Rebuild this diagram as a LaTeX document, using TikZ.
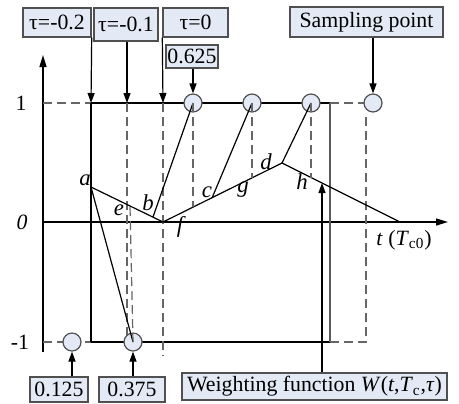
\documentclass[tikz,border=0pt]{standalone}
\usepackage{fontspec}
\setmainfont{Liberation Serif}
\usetikzlibrary{arrows.meta}
\definecolor{boxfill}{RGB}{228,234,245}
\definecolor{edge}{RGB}{80,80,80}

\begin{document}
\begin{tikzpicture}[x=0.5pt, y=-0.5pt, font=\fontsize{10.9}{13}\selectfont,
    lbl/.style={draw=edge, fill=boxfill, inner sep=0pt, line width=0.7pt},
    smp/.style={circle, draw=edge, fill=boxfill, minimum size=9pt, inner sep=0pt, line width=0.6pt},
    dsh/.style={draw=black!60, dash pattern=on 4.5pt off 2.5pt, line width=0.6pt},
    tip/.style={-{Triangle[length=5pt, width=3.5pt]}, line width=0.6pt},
    pt/.style={font=\fontsize{11.4}{13}\selectfont\itshape, inner sep=1pt}]
  \useasboundingbox (0,0) rectangle (459,403);

  % --- axes ---
  \draw[-{Triangle[length=6pt, width=3.5pt]}, line width=0.7pt] (43,352) -- (43,55);
  \draw[-{Triangle[length=6pt, width=3.5pt]}, line width=0.7pt] (43,222) -- (448,222);
  \node at (21,103) {1};
  \node at (22,222) {\itshape 0};
  \node at (20,342) {-1};
  \node at (404,240) {\textit{t} (\textit{T}\textsubscript{c0})};

  % --- weighting function points ---
  \coordinate (a) at (91,187);
  \coordinate (v) at (163,222);
  \coordinate (d) at (282,163);
  \coordinate (z) at (400,222);
  \coordinate (e) at (130,206);
  \coordinate (b) at (153,217);
  \coordinate (f) at (193,207);
  \coordinate (c) at (212,198);
  \coordinate (g) at (252,178);
  \coordinate (h) at (311,177.5);
  \coordinate (w) at (322,183);

  % --- window, y = 1 and y = -1 ---
  \draw[line width=0.6pt] (91,103) -- (330,103);
  \draw[line width=0.6pt] (91,342) -- (330,342);
  \draw[line width=0.6pt, draw=black!65] (330,103) -- (330,342);
  \draw[dsh] (43,103) -- (91,103);
  \draw[dsh] (43,342) -- (91,342);
  \draw[dsh] (330,342) -- (366,342) -- (366,112);
  \draw[dsh] (330,103) -- (364,103);

  % --- tau markers ---
  \node[lbl, minimum width=34pt, minimum height=14.5pt] (tA) at (57,22.5) {τ=-0.2};
  \node[lbl, minimum width=32pt, minimum height=16.5pt] (tB) at (126,24.5) {τ=-0.1};
  \node[lbl, minimum width=32.5pt, minimum height=14.5pt] (tC) at (195.5,22.5) {τ=0};
  \draw[tip] (tA.south east) -- (91,103);
  \draw[line width=0.6pt] (91,103) -- (91,342);
  \draw[tip] (tB.south -| 127,0) -- (127,103);
  \draw[dsh] (127,103) -- (127,338);
  \draw[tip] (tC.south west) -- (163,103);
  \draw[dsh] (163,103) -- (163,356);

  % --- weighting function ---
  \draw[line width=0.6pt] (a) -- (v) -- (d) -- (z);

  % --- samples ---
  \node[smp] (s1) at (72,342) {};
  \node[smp] (s2) at (133,342) {};
  \node[smp] (s3) at (193,103) {};
  \node[smp] (s4) at (252,103) {};
  \node[smp] (s5) at (311,103) {};
  \node[smp] (s6) at (373,103) {};
  \draw[line width=0.6pt] (a) -- (s2.center);
  \draw[line width=0.6pt] (b) -- (s3.center);
  \draw[line width=0.6pt] (c) -- (s4.center);
  \draw[line width=0.6pt] (d) -- (s5.center);
  \draw[dsh] (s2.center) -- (e);
  \draw[dsh] (s3.center) -- (f);
  \draw[dsh] (s4.center) -- (g);
  \draw[dsh] (s5.center) -- (h);

  \node[pt] at (85,180) {a};
  \node[pt] at (148,203) {b};
  \node[pt] at (207,192) {c};
  \node[pt] at (266,162) {d};
  \node[pt] at (119,210) {e};
  \node[pt] at (180,227) {f};
  \node[pt] at (243,190) {g};
  \node[pt] at (302,182) {h};

  % --- value and sampling labels ---
  \node[lbl, minimum width=26pt, minimum height=11.5pt] (v3) at (192,56.5) {0.625};
  \node[lbl, minimum width=76.5pt, minimum height=15pt] (sp) at (366.5,22) {Sampling point};
  \node[lbl, minimum width=29pt, minimum height=12.5pt] (v1) at (59,389.5) {0.125};
  \node[lbl, minimum width=33pt, minimum height=12.5pt] (v2) at (132,389.5) {0.375};
  \node[lbl, minimum width=132.5pt, minimum height=13.5pt] (wf) at (314.5,386.5)
    {Weighting function \textit{W}(\textit{t},\textit{T}\textsubscript{c},\textit{τ})};
  \draw[tip] (v3.south -| s3) -- (s3.north);
  \draw[tip] (sp.south -| s6) -- (s6.north);
  \draw[tip] (v1.north -| s1) -- (s1.south);
  \draw[tip] (v2.north -| s2) -- (s2.south);
  \draw[tip] (wf.north -| w) -- (w);
\end{tikzpicture}
\end{document}
